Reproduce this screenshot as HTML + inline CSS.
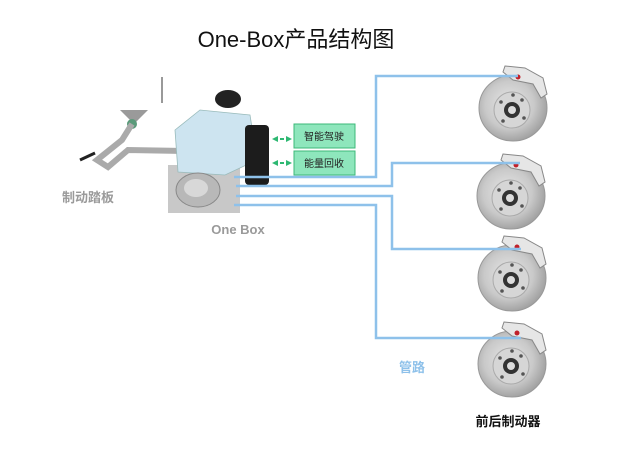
<!DOCTYPE html>
<html><head><meta charset="utf-8"><style>
body{margin:0;background:#fff;width:644px;height:466px;overflow:hidden;font-family:"Liberation Sans","Noto Sans CJK SC",sans-serif}
</style></head><body>
<svg width="644" height="466" viewBox="0 0 644 466" xmlns="http://www.w3.org/2000/svg">
<defs>
<radialGradient id="disc" cx="45%" cy="45%" r="60%"><stop offset="0" stop-color="#e8e8e8"/><stop offset="0.6" stop-color="#c9c9c9"/><stop offset="1" stop-color="#9a9a9a"/></radialGradient>
<g id="brake">
<ellipse cx="0" cy="0" rx="34" ry="33" fill="url(#disc)" stroke="#999" stroke-width="1"/>
<ellipse cx="-1" cy="2" rx="18" ry="18" fill="#d6d6d6" stroke="#aaa"/>
<circle cx="-1" cy="2" r="8" fill="#333"/><circle cx="-1" cy="2" r="4" fill="#ddd"/>
<circle cx="-12" cy="-6" r="1.8" fill="#555"/><circle cx="9" cy="-8" r="1.8" fill="#555"/><circle cx="11" cy="10" r="1.8" fill="#555"/><circle cx="-10" cy="13" r="1.8" fill="#555"/><circle cx="0" cy="-13" r="1.8" fill="#555"/>
<path d="M-8,-42 L12,-40 L30,-30 L34,-14 L28,-10 L20,-24 L0,-28 L-10,-36 Z" fill="#e6e6e6" stroke="#888"/>
<circle cx="5" cy="-31" r="2.5" fill="#c0202a"/>
</g>
</defs>
<text x="296" y="47" font-size="22" text-anchor="middle" fill="#111">One-Box产品结构图</text>
<!-- pedal -->
<line x1="162" y1="77" x2="162" y2="103" stroke="#555" stroke-width="1.2"/>
<polygon points="120,110 148,110 134,124" fill="#9a9a9a"/>
<circle cx="132" cy="124" r="5" fill="#5a9a7a"/>
<path d="M132,124 L122,140 L97,160 L108,167 L128,150 L185,151" stroke="#aaa" stroke-width="6" fill="none"/>
<line x1="80" y1="160" x2="95" y2="153" stroke="#222" stroke-width="3"/>
<text x="88" y="202" font-size="13" font-weight="bold" fill="#9a9a9a" text-anchor="middle">制动踏板</text>
<!-- one box -->
<rect x="168" y="165" width="72" height="48" fill="#c8c8c8"/>
<path d="M175,130 L200,110 L250,115 L257,160 L225,175 L178,172 Z" fill="#cde4f0" stroke="#9bb" stroke-width="0.8"/>
<ellipse cx="228" cy="99" rx="13" ry="9" fill="#222"/>
<rect x="245" y="125" width="24" height="60" rx="4" fill="#1c1c1c"/>
<ellipse cx="198" cy="190" rx="22" ry="17" fill="#b8b8b8" stroke="#888"/>
<ellipse cx="196" cy="188" rx="12" ry="9" fill="#d8d8d8"/>
<text x="238" y="234" font-size="13" font-weight="bold" fill="#9a9a9a" text-anchor="middle">One Box</text>
<!-- tags -->
<rect x="294" y="124" width="61" height="24" fill="#8ee6bc" stroke="#3cb878"/>
<text x="324" y="140" font-size="10" text-anchor="middle" fill="#222">智能驾驶</text>
<rect x="294" y="151" width="61" height="24" fill="#8ee6bc" stroke="#3cb878"/>
<text x="324" y="167" font-size="10" text-anchor="middle" fill="#222">能量回收</text>
<g fill="#2eb872"><polygon points="272,139 278,136 278,142"/><polygon points="292,139 286,136 286,142"/><rect x="280" y="138" width="4" height="2"/>
<polygon points="272,163 278,160 278,166"/><polygon points="292,163 286,160 286,166"/><rect x="280" y="162" width="4" height="2"/></g>
<!-- brakes -->
<use href="#brake" x="513" y="108"/>
<use href="#brake" x="511" y="196"/>
<use href="#brake" x="512" y="278"/>
<use href="#brake" x="512" y="364"/>
<!-- pipes -->
<g stroke="#8ec1ea" stroke-width="2.5" fill="none">
<path d="M234,177 H376 V76 H518"/>
<path d="M236,186 H392 V163 H520"/>
<path d="M236,196 H392 V249 H521"/>
<path d="M234,205 H376 V338 H521"/>
</g>
<text x="412" y="372" font-size="13" font-weight="bold" fill="#8ec1ea" text-anchor="middle">管路</text>
<text x="508" y="426" font-size="13" font-weight="bold" fill="#111" text-anchor="middle">前后制动器</text>
</svg>
</body></html>
